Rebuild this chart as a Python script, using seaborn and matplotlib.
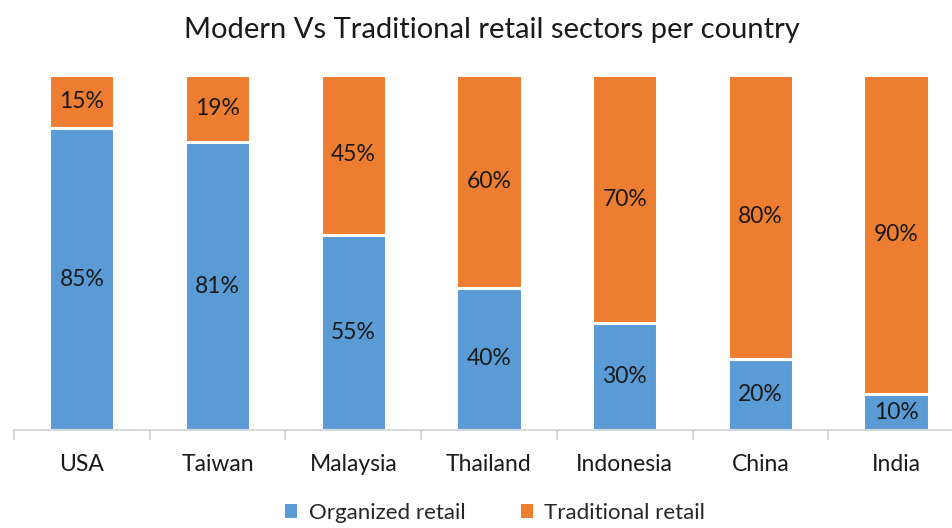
import matplotlib
matplotlib.use("Agg")
import matplotlib.pyplot as plt
import seaborn as sns
import pandas as pd
from matplotlib.patches import Patch

countries = ["USA", "Taiwan", "Malaysia", "Thailand", "Indonesia", "China", "India"]
organized = [85, 81, 55, 40, 30, 20, 10]
traditional = [15, 19, 45, 60, 70, 80, 90]
series_names = ["Organized retail", "Traditional retail"]
colors = ["#5B9BD5", "#ED7D31"]

sns.set_theme(style="white")
plt.rcParams["font.family"] = ["Lato", "DejaVu Sans"]

df = pd.DataFrame({"country": countries, "organized": organized,
                   "traditional": traditional})
df["total"] = df["organized"] + df["traditional"]

fig = plt.figure(figsize=(9.52, 5.28), dpi=100)
W, H = 952, 528
left_px, right_px = 14, 14 + 7 * 135.7
top_px, bot_px = 73, 430
ax = fig.add_axes([left_px / W, (H - bot_px) / H, (right_px - left_px) / W, (bot_px - top_px) / H])

sns.barplot(data=df, x="country", y="total", color=colors[1], width=0.48,
            edgecolor="white", linewidth=2.2, saturation=1, ax=ax)
sns.barplot(data=df, x="country", y="organized", color=colors[0], width=0.48,
            edgecolor="white", linewidth=2.2, saturation=1, ax=ax)

for i, (o, t) in enumerate(zip(organized, traditional)):
    ax.text(i, o / 2, f"{o}%", ha="center", va="center", fontsize=16.5, color="#1a1a1a")
    ax.text(i, o + t / 2, f"{t}%", ha="center", va="center", fontsize=16.5, color="#1a1a1a")

ax.set_ylim(0, 100.5)
ax.set_xlim(-0.5, 6.5)
ax.set_xlabel("")
ax.set_ylabel("")
ax.set_yticks([])
for s in ["top", "right", "left"]:
    ax.spines[s].set_visible(False)
ax.spines["bottom"].set_color("#d0d0d0")
ax.spines["bottom"].set_linewidth(1.2)
ax.set_xticks(range(len(countries)))
ax.set_xticklabels(countries, fontsize=16.5, color="#1a1a1a")
ax.tick_params(axis="x", length=0, pad=17)
ax.set_xticks([i - 0.5 for i in range(len(countries) + 1)], minor=True)
ax.tick_params(axis="x", which="minor", length=7, color="#d0d0d0", width=1.2, direction="out", bottom=True)

fig.text(492 / W, 1 - 30 / H, "Modern Vs Traditional retail sectors per country",
         ha="center", va="center", fontsize=21, color="#1a1a1a")

handles = [Patch(facecolor=c, edgecolor="none") for c in colors]
fig.legend(handles, series_names, loc="center", bbox_to_anchor=(0.52, 1 - 513 / H),
           ncol=2, frameon=False, fontsize=16, handlelength=0.55, handleheight=0.55,
           columnspacing=2.5, handletextpad=0.5, borderpad=0.1)

fig.savefig("out.png", dpi=100)
